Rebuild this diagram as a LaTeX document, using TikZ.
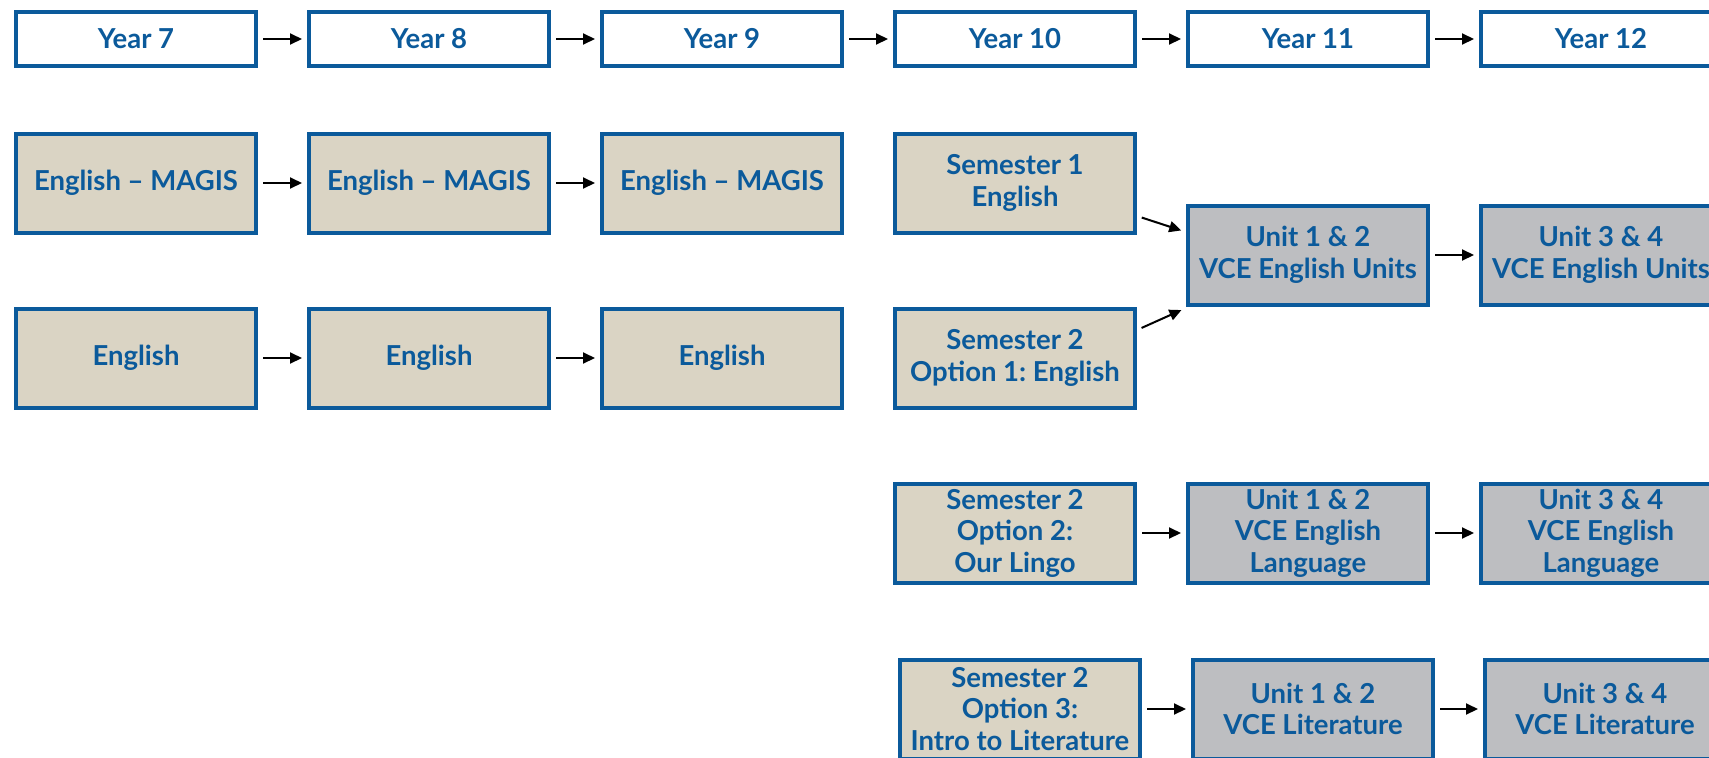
\documentclass[tikz,border=0pt]{standalone}
\usepackage{fontspec}
\setmainfont{Lato}
\usetikzlibrary{arrows.meta,calc}
\frenchspacing
\definecolor{bblue}{HTML}{0B5A9B}
\definecolor{beige}{HTML}{DAD4C4}
\definecolor{vgray}{HTML}{BDBEC1}
\tikzset{
  box/.style={draw=bblue, line width=4pt, minimum width=240pt, minimum height=99pt,
    align=center, text=bblue, inner sep=0pt,
    font=\fontsize{27.5}{31.5}\selectfont\bfseries},
  yearbox/.style={box, fill=white, minimum height=54pt},
  beigebox/.style={box, fill=beige},
  graybox/.style={box, fill=vgray},
  arr/.style={-{Triangle[length=12pt,width=11pt]}, line width=2pt, black,
    shorten <=5pt, shorten >=5pt},
}
\begin{document}
\begin{tikzpicture}[x=1pt,y=1pt]
\useasboundingbox (0,0) rectangle (1709,-758);
% year row
\node[yearbox] (y7)  at (136,-39)  {Year 7};
\node[yearbox] (y8)  at (429,-39)  {Year 8};
\node[yearbox] (y9)  at (722,-39)  {Year 9};
\node[yearbox] (y10) at (1015,-39) {Year 10};
\node[yearbox] (y11) at (1308,-39) {Year 11};
\node[yearbox] (y12) at (1601,-39) {Year 12};
\draw[arr] (y7) -- (y8);
\draw[arr] (y8) -- (y9);
\draw[arr] (y9) -- (y10);
\draw[arr] (y10) -- (y11);
\draw[arr] (y11) -- (y12);
% MAGIS row
\node[beigebox] (m7) at (136,-183) {English -- MAGIS};
\node[beigebox] (m8) at (429,-183) {English -- MAGIS};
\node[beigebox] (m9) at (722,-183) {English -- MAGIS};
\draw[arr] (m7) -- (m8);
\draw[arr] (m8) -- (m9);
% English row
\node[beigebox] (e7) at (136,-358) {English};
\node[beigebox] (e8) at (429,-358) {English};
\node[beigebox] (e9) at (722,-358) {English};
\draw[arr] (e7) -- (e8);
\draw[arr] (e8) -- (e9);
% Year 10 options
\node[beigebox] (s1) at (1015,-183) {Semester 1\\English};
\node[beigebox] (s2a) at (1015,-358) {Semester 2\\Option 1: English};
\node[graybox] (ue12) at (1308,-255) {Unit 1 \& 2\\VCE English Units};
\node[graybox] (ue34) at (1601,-255) {Unit 3 \& 4\\VCE English Units};
\draw[arr] ($(s1.east)+(0,-33)$) -- ($(ue12.west)+(0,23)$);
\draw[arr] ($(s2a.east)+(0,28)$) -- ($(ue12.west)+(0,-53)$);
\draw[arr] (ue12) -- (ue34);
% Option 2
\node[beigebox] (s2b) at (1015,-533) {Semester 2\\Option 2:\\Our Lingo};
\node[graybox] (ul12) at (1308,-533) {Unit 1 \& 2\\VCE English\\Language};
\node[graybox] (ul34) at (1601,-533) {Unit 3 \& 4\\VCE English\\Language};
\draw[arr] (s2b) -- (ul12);
\draw[arr] (ul12) -- (ul34);
% Option 3
\node[beigebox] (s2c) at (1020,-709) {Semester 2\\Option 3:\\Intro to Literature};
\node[graybox] (ut12) at (1313,-709) {Unit 1 \& 2\\VCE Literature};
\node[graybox] (ut34) at (1605,-709) {Unit 3 \& 4\\VCE Literature};
\draw[arr] (s2c) -- (ut12);
\draw[arr] (ut12) -- (ut34);
\end{tikzpicture}
\end{document}
